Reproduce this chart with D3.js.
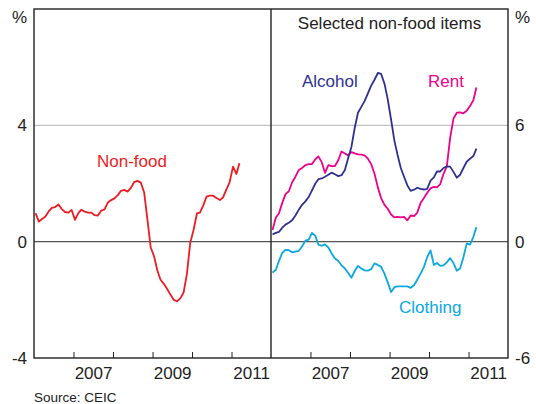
<!DOCTYPE html>
<html>
<head>
<meta charset="utf-8">
<script src="https://cdn.jsdelivr.net/npm/d3@7"></script>
<style>
  body { margin: 0; background: #fff; }
  svg text { font-family: "Liberation Sans", Arial, sans-serif; fill: #222; }
</style>
</head>
<body>
<div id="chart"></div>
<script>
// monthly, Jan 2006 - Mar 2011
var months = d3.timeMonth.range(new Date(2006, 0, 1), new Date(2011, 3, 1));

var nonFood = [0.98, 0.69, 0.78, 0.86, 1.03, 1.16, 1.19, 1.28, 1.12, 1.02, 1.0, 1.09, 0.75, 0.98, 1.1, 1.03,
  1.0, 1.0, 0.91, 0.9, 1.07, 1.11, 1.35, 1.43, 1.49, 1.6, 1.75, 1.78, 1.72, 1.85, 2.05, 2.09, 2.03, 1.7,
  0.75, -0.2, -0.5, -1.0, -1.3, -1.45, -1.62, -1.82, -2.0, -2.05, -1.95, -1.75, -1.1, -0.05, 0.4, 0.97,
  1.0, 1.25, 1.55, 1.58, 1.58, 1.5, 1.43, 1.52, 1.8, 2.05, 2.58, 2.33, 2.7];

var alcohol = [0.38, 0.45, 0.5, 0.72, 0.88, 0.98, 1.1, 1.35, 1.65, 1.9, 2.08, 2.3, 2.65, 3.0, 3.22, 3.26,
  3.35, 3.45, 3.56, 3.48, 3.38, 3.43, 3.7, 4.3, 4.9, 5.9, 6.65, 6.95, 7.25, 7.65, 8.05, 8.35, 8.7, 8.65,
  8.15, 7.35, 6.3, 5.2, 4.5, 3.8, 3.35, 2.9, 2.62, 2.68, 2.78, 2.72, 2.69, 2.72, 3.15, 3.32, 3.62, 3.62,
  3.8, 3.88, 3.87, 3.6, 3.3, 3.45, 3.8, 4.12, 4.28, 4.42, 4.8];

var rent = [0.6, 1.25, 1.45, 2.0, 2.45, 2.6, 3.05, 3.35, 3.7, 3.8, 3.95, 4.0, 4.0, 4.25, 4.4, 4.1, 3.55,
  3.95, 3.9, 3.9, 4.2, 4.65, 4.55, 4.45, 4.62, 4.55, 4.5, 4.49, 4.45, 4.28, 4.0, 3.5, 2.8, 2.25, 1.9,
  1.7, 1.4, 1.25, 1.28, 1.25, 1.28, 1.1, 1.35, 1.32, 1.5, 2.0, 2.25, 2.52, 2.75, 2.83, 2.8, 2.97, 3.5,
  3.9, 5.35, 6.35, 6.65, 6.67, 6.62, 6.75, 7.0, 7.3, 7.95];

var clothing = [-1.6, -1.45, -1.0, -0.58, -0.43, -0.44, -0.55, -0.51, -0.47, -0.25, 0.05, 0.1, 0.45, 0.3,
  -0.15, -0.21, -0.14, -0.3, -0.6, -0.87, -1.0, -1.22, -1.38, -1.6, -1.86, -1.5, -1.25, -1.38, -1.48,
  -1.49, -1.42, -1.12, -1.2, -1.3, -1.65, -2.1, -2.6, -2.35, -2.31, -2.31, -2.31, -2.31, -2.38, -2.25,
  -1.95, -1.65, -1.3, -0.8, -0.45, -1.2, -1.1, -1.25, -1.22, -1.06, -0.85, -1.1, -1.5, -1.38, -0.8,
  -0.1, -0.15, 0.25, 0.75];

var leftTicks = [-4, 0, 4];
var rightTicks = [-6, 0, 6];
var yearLabels = [2007, 2009, 2011];

var width = 536, height = 404,
  yTop = 9, yBottom = 358,
  x0 = 34, xMid = 271, x1 = 508;

var svg = d3.select('#chart')
  .append('svg')
  .attr('width', width)
  .attr('height', height);

var xLeft = d3.scaleTime()
  .domain([new Date(2006, 0, 1), new Date(2012, 0, 1)])
  .range([x0, xMid]);
var xRight = xLeft.copy().range([xMid, x1]);

var yLeft = d3.scaleLinear().domain([-4, 8]).range([yBottom, yTop]);
var yRight = d3.scaleLinear().domain([-6, 12]).range([yBottom, yTop]);

// mid-month positions
function midMonth(d) { return d3.timeDay.offset(d, 14); }
// plain hyphen for negatives, like the original
function plain(d) { return String(d); }

// grid line at 4 / 6
svg.append('line')
  .attr('x1', x0).attr('x2', x1)
  .attr('y1', yLeft(4)).attr('y2', yLeft(4))
  .style('stroke', '#b4b4b4').style('stroke-width', 1);

// zero line
svg.append('line')
  .attr('x1', x0).attr('x2', x1)
  .attr('y1', yLeft(0)).attr('y2', yLeft(0))
  .style('stroke', '#555').style('stroke-width', 1.4);

// year ticks + labels
function drawXAxis(x) {
  svg.append('g')
    .attr('transform', 'translate(0,' + yBottom + ')')
    .call(d3.axisBottom(x)
      .tickValues(d3.range(2007, 2012).map(function(y) { return new Date(y, 0, 1); }))
      .tickSize(-6)
      .tickFormat(''))
    .call(function(g) {
      g.select('.domain').remove();
      g.selectAll('line').style('stroke', '#222').style('stroke-width', 1);
    });

  svg.append('g')
    .attr('transform', 'translate(0,' + yBottom + ')')
    .call(d3.axisBottom(x)
      .tickValues(yearLabels.map(function(y) { return new Date(y, 6, 1); }))
      .tickSize(0)
      .tickPadding(9)
      .tickFormat(d3.timeFormat('%Y')))
    .call(function(g) {
      g.select('.domain').remove();
      g.selectAll('text').style('font-size', '17px').style('fill', '#222');
    });
}
drawXAxis(xLeft);
drawXAxis(xRight);

// y axes labels
svg.append('g')
  .attr('transform', 'translate(' + x0 + ',0)')
  .call(d3.axisLeft(yLeft).tickValues(leftTicks).tickSize(0).tickPadding(7).tickFormat(plain))
  .call(function(g) {
    g.select('.domain').remove();
    g.selectAll('text').style('font-size', '17px').style('fill', '#222');
  });

svg.append('g')
  .attr('transform', 'translate(' + x1 + ',0)')
  .call(d3.axisRight(yRight).tickValues(rightTicks).tickSize(0).tickPadding(7).tickFormat(plain))
  .call(function(g) {
    g.select('.domain').remove();
    g.selectAll('text').style('font-size', '17px').style('fill', '#222');
  });

svg.append('text').attr('x', 27).attr('y', 23).attr('text-anchor', 'end')
  .style('font-size', '17px').text('%');
svg.append('text').attr('x', 515).attr('y', 23).attr('text-anchor', 'start')
  .style('font-size', '17px').text('%');

// lines
function drawLine(x, y, values, colour) {
  var line = d3.line()
    .x(function(d, i) { return x(midMonth(months[i])); })
    .y(function(d) { return y(d); });
  svg.append('path')
    .datum(values)
    .attr('d', line)
    .style('fill', 'none')
    .style('stroke', colour)
    .style('stroke-width', 1.8)
    .style('stroke-linejoin', 'round');
}

drawLine(xLeft, yLeft, nonFood, '#ed1c24');
drawLine(xRight, yRight, clothing, '#0aa7e2');
drawLine(xRight, yRight, rent, '#ec008c');
drawLine(xRight, yRight, alcohol, '#2e3192');

// frame
svg.append('rect')
  .attr('x', x0).attr('y', yTop)
  .attr('width', x1 - x0).attr('height', yBottom - yTop)
  .style('fill', 'none').style('stroke', '#222').style('stroke-width', 1.4);
svg.append('line')
  .attr('x1', xMid).attr('x2', xMid).attr('y1', yTop).attr('y2', yBottom)
  .style('stroke', '#222').style('stroke-width', 1.4);

// series labels
var labels = [
  { text: 'Non-food', x: 97, y: 167, colour: '#ed1c24' },
  { text: 'Alcohol', x: 302, y: 87, colour: '#2e3192' },
  { text: 'Rent', x: 428, y: 87, colour: '#ec008c' },
  { text: 'Clothing', x: 399, y: 313, colour: '#0aa7e2' }
];
svg.selectAll('.series-label')
  .data(labels)
  .enter()
  .append('text')
  .attr('class', 'series-label')
  .attr('x', function(d) { return d.x; })
  .attr('y', function(d) { return d.y; })
  .style('font-size', '17px')
  .style('fill', function(d) { return d.colour; })
  .text(function(d) { return d.text; });

// panel title
svg.append('text')
  .attr('x', (xMid + x1) / 2).attr('y', 29)
  .attr('text-anchor', 'middle')
  .style('font-size', '17px')
  .text('Selected non-food items');

svg.append('text')
  .attr('x', x0).attr('y', 402)
  .style('font-size', '13.5px')
  .text('Source: CEIC');
</script>
</body>
</html>
